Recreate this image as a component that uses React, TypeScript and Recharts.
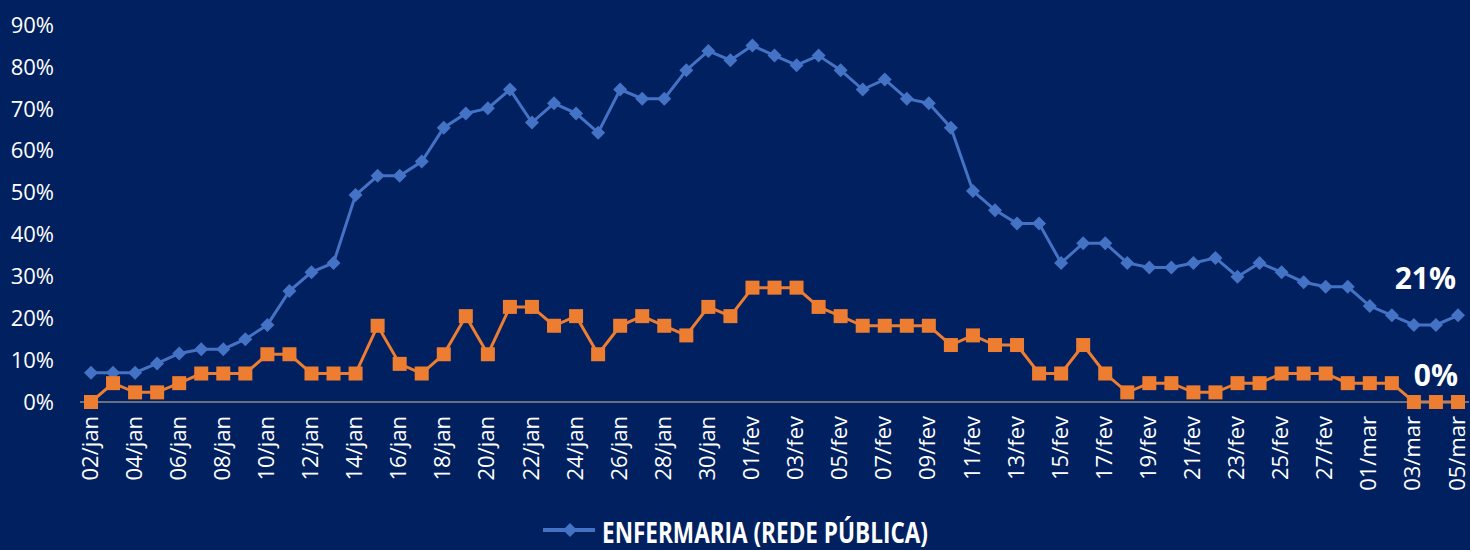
import { LineChart, Line, XAxis, YAxis, Legend, LabelList } from 'recharts'

const FONT = '"Open Sans", sans-serif'
const BG = '#002060'
const BLUE = '#4472C4'
const ORANGE = '#ED7D31'

const DATES = [
  '02/jan', '03/jan', '04/jan', '05/jan', '06/jan', '07/jan', '08/jan', '09/jan', '10/jan', '11/jan',
  '12/jan', '13/jan', '14/jan', '15/jan', '16/jan', '17/jan', '18/jan', '19/jan', '20/jan', '21/jan',
  '22/jan', '23/jan', '24/jan', '25/jan', '26/jan', '27/jan', '28/jan', '29/jan', '30/jan', '31/jan',
  '01/fev', '02/fev', '03/fev', '04/fev', '05/fev', '06/fev', '07/fev', '08/fev', '09/fev', '10/fev',
  '11/fev', '12/fev', '13/fev', '14/fev', '15/fev', '16/fev', '17/fev', '18/fev', '19/fev', '20/fev',
  '21/fev', '22/fev', '23/fev', '24/fev', '25/fev', '26/fev', '27/fev', '28/fev', '01/mar', '02/mar',
  '03/mar', '04/mar', '05/mar',
]

// ocupação enfermaria (rede pública)
const ENFERMARIA = [
  0.07, 0.07, 0.07, 0.092, 0.116, 0.126, 0.126, 0.15, 0.184, 0.265,
  0.31, 0.332, 0.494, 0.54, 0.54, 0.574, 0.655, 0.689, 0.701, 0.746,
  0.667, 0.713, 0.689, 0.643, 0.746, 0.724, 0.724, 0.792, 0.838, 0.816,
  0.851, 0.827, 0.804, 0.827, 0.792, 0.746, 0.77, 0.724, 0.713, 0.655,
  0.504, 0.458, 0.426, 0.426, 0.332, 0.379, 0.379, 0.332, 0.321, 0.321,
  0.332, 0.344, 0.299, 0.332, 0.31, 0.286, 0.275, 0.275, 0.229, 0.207,
  0.184, 0.184, 0.207,
]

// segunda série (laranja)
const SERIE_2 = [
  0, 0.045, 0.023, 0.023, 0.045, 0.068, 0.068, 0.068, 0.114, 0.114,
  0.068, 0.068, 0.068, 0.182, 0.091, 0.068, 0.114, 0.205, 0.114, 0.227,
  0.227, 0.182, 0.205, 0.114, 0.182, 0.205, 0.182, 0.159, 0.227, 0.205,
  0.273, 0.273, 0.273, 0.227, 0.205, 0.182, 0.182, 0.182, 0.182, 0.136,
  0.159, 0.136, 0.136, 0.068, 0.068, 0.136, 0.068, 0.023, 0.045, 0.045,
  0.023, 0.023, 0.045, 0.045, 0.068, 0.068, 0.068, 0.045, 0.045, 0.045,
  0, 0, 0,
]

const Y_TICKS = [0, 0.1, 0.2, 0.3, 0.4, 0.5, 0.6, 0.7, 0.8, 0.9]

const last = DATES.length - 1
const data = DATES.map((date, i) => ({
  date,
  enfermaria: ENFERMARIA[i],
  serie2: SERIE_2[i],
  rotuloEnf: i === last ? ENFERMARIA[i] : null,
  rotulo2: i === last ? SERIE_2[i] : null,
}))

const pct = (v: number) => `${Math.round(v * 100)}%`

const Diamond = (props: any) => {
  const { cx, cy, index } = props
  if (cx == null || cy == null) return <g key={index} />
  const r = 7
  return (
    <path key={index} d={`M${cx},${cy - r} L${cx + r},${cy} L${cx},${cy + r} L${cx - r},${cy} Z`} fill={BLUE} />
  )
}

const Square = (props: any) => {
  const { cx, cy, index } = props
  if (cx == null || cy == null) return <g key={index} />
  const s = 7
  return <rect key={index} x={cx - s} y={cy - s} width={s * 2} height={s * 2} fill={ORANGE} />
}

const XTick = ({ x, y, payload }: any) => (
  <text
    x={x}
    y={y}
    transform={`rotate(-90 ${x} ${y})`}
    textAnchor="end"
    dy="0.3em"
    fill="#fff"
    fontSize={22}
    fontFamily={FONT}
  >
    {payload.value}
  </text>
)

// rótulo só no último ponto
const endLabel = (dx: number, dy: number) => (props: any) => {
  const { value } = props
  if (value == null) return null
  const x = props.x ?? props.viewBox?.x
  const y = props.y ?? props.viewBox?.y
  return (
    <text x={x + dx} y={y + dy} textAnchor="end" fill="#fff" fontSize={30} fontWeight={700} fontFamily={FONT}>
      {pct(value)}
    </text>
  )
}

const LegendContent = (props: any) => {
  const item = (props.payload || []).find((p: any) => p.type !== 'none') || { value: '', color: BLUE }
  return (
    <svg width={440} height={40} style={{ position: 'absolute', left: 520, top: 510, overflow: 'visible' }}>
      <line x1={23} y1={20} x2={75} y2={20} stroke={item.color} strokeWidth={4} />
      <path d="M50,13 L57,20 L50,27 L43,20 Z" fill={item.color} />
      <text
        x={82}
        y={33}
        fill="#fff"
        fontSize={29}
        fontWeight={700}
        fontFamily={FONT}
        textLength={326}
        lengthAdjust="spacingAndGlyphs"
      >
        {item.value}
      </text>
    </svg>
  )
}

export default function App() {
  return (
    <div style={{ position: 'absolute', left: 0, top: 0, width: 1470, height: 550, background: BG, fontFamily: FONT }}>
      <LineChart width={1470} height={550} data={data} margin={{ top: 25, right: 1, left: 0, bottom: 0 }}>
        <XAxis
          dataKey="date"
          interval={1}
          height={148}
          padding={{ left: 11, right: 11 }}
          axisLine={{ stroke: '#8c8c8c', strokeWidth: 1.5 }}
          tickLine={false}
          tickSize={0}
          tickMargin={14}
          tick={<XTick />}
        />
        <YAxis
          width={80}
          domain={[0, 0.9]}
          ticks={Y_TICKS}
          tickFormatter={pct}
          axisLine={false}
          tickLine={false}
          tickSize={0}
          tickMargin={26}
          tick={{ fill: '#fff', fontSize: 22, fontFamily: FONT }}
        />
        <Legend
          verticalAlign="bottom"
          wrapperStyle={{ position: 'absolute', left: 0, top: 0, bottom: 'auto', width: 1470, height: 0 }}
          content={<LegendContent />}
        />
        <Line
          dataKey="enfermaria"
          name="ENFERMARIA (REDE PÚBLICA)"
          stroke={BLUE}
          strokeWidth={3}
          dot={<Diamond />}
          activeDot={false}
          isAnimationActive={false}
        >
          <LabelList dataKey="rotuloEnf" content={endLabel(-2, -26)} />
        </Line>
        <Line
          dataKey="serie2"
          name="SÉRIE 2"
          legendType="none"
          stroke={ORANGE}
          strokeWidth={3}
          dot={<Square />}
          activeDot={false}
          isAnimationActive={false}
        >
          <LabelList dataKey="rotulo2" content={endLabel(0, -16)} />
        </Line>
      </LineChart>
    </div>
  )
}
